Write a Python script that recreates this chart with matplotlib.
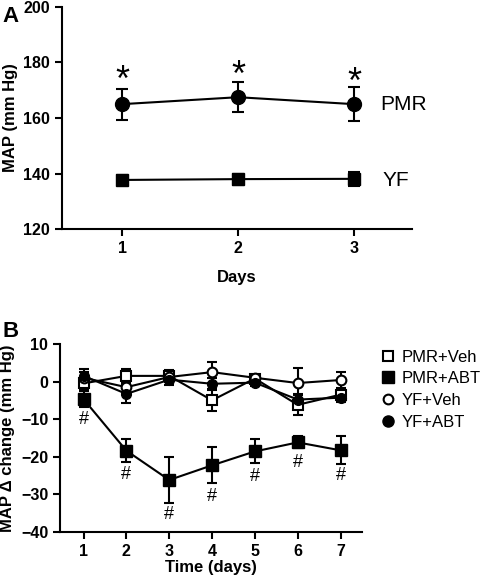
import matplotlib.pyplot as plt
import numpy as np
from matplotlib.lines import Line2D

# Panel A data
days_a = [1, 2, 3]
pmr_mean = [165.0, 167.5, 165.0]
pmr_err = [5.6, 5.3, 6.0]
yf_mean = [137.7, 138.0, 138.1]
yf_err = [1.8, 2.0, 2.6]
star_y = [173.0, 175.0, 172.5]

# Panel B data
days_b = [1, 2, 3, 4, 5, 6, 7]
pmr_veh = [-0.5, 1.5, 1.5, -5.0, 0.8, -6.2, -3.5]
pmr_veh_err = [1.5, 1.8, 1.5, 2.8, 1.0, 2.6, 1.5]
pmr_abt = [-4.7, -18.4, -26.2, -22.3, -18.6, -16.2, -18.3]
pmr_abt_err = [2.2, 3.0, 6.0, 4.8, 3.2, 1.6, 3.7]
yf_veh = [1.0, -1.5, 1.2, 2.5, 1.0, -0.4, 0.4]
yf_veh_err = [1.5, 1.5, 1.2, 2.8, 0.8, 4.0, 2.2]
yf_abt = [1.5, -3.3, 0.5, -0.6, -0.3, -4.8, -4.3]
yf_abt_err = [1.8, 2.5, 1.5, 1.5, 0.8, 1.5, 1.2]
hash_y = [-10.2, -24.8, -35.5, -30.6, -25.3, -21.5, -25.1]

plt.rcParams['font.family'] = ['Liberation Sans', 'DejaVu Sans']

fig = plt.figure(figsize=(4.8, 5.8), dpi=100)
ax1 = fig.add_axes([0.129, 0.605, 0.729, 0.383])
ax2 = fig.add_axes([0.125, 0.083, 0.629, 0.324])

def style(ax):
    ax.spines['top'].set_visible(False)
    ax.spines['right'].set_visible(False)
    ax.spines['left'].set_linewidth(1.5)
    ax.spines['bottom'].set_linewidth(1.5)
    ax.tick_params(direction='out', width=1.5, length=5, labelsize=11.5)
    for lab in ax.get_xticklabels() + ax.get_yticklabels():
        lab.set_fontweight('bold')

# Panel A
ebkw = dict(color='black', lw=1.5, capsize=4, capthick=1.5, elinewidth=1.5)
ax1.errorbar(days_a, pmr_mean, yerr=pmr_err, marker='o', ms=10, **ebkw)
ax1.errorbar(days_a, yf_mean, yerr=yf_err, marker='s', ms=8.5, **ebkw)
for x, y in zip(days_a, star_y):
    ax1.text(x, y, '*', ha='center', va='center', fontsize=26)
ax1.text(3.23, 165, 'PMR', ha='left', va='center', fontsize=15)
ax1.text(3.25, 137.5, 'YF', ha='left', va='center', fontsize=15)
ax1.set_xlim(0.48, 3.5)
ax1.set_ylim(120, 200)
ax1.set_xticks([1, 2, 3])
ax1.set_yticks(np.arange(120, 201, 20))
ax1.set_xlabel('Days', fontsize=12, fontweight='bold', labelpad=10)
ax1.set_ylabel('MAP (mm Hg)', fontsize=12, fontweight='bold')
style(ax1)
fig.text(0.005, 0.99, 'A', fontsize=16, fontweight='bold', va='top')

# Panel B
ebkw2 = dict(color='black', lw=1.5, capsize=3.5, capthick=1.5, elinewidth=1.5)
ax2.errorbar(days_b, pmr_veh, yerr=pmr_veh_err, marker='s', ms=7, mfc='white',
             mec='black', mew=1.5, **ebkw2)
ax2.errorbar(days_b, yf_veh, yerr=yf_veh_err, marker='o', ms=7, mfc='white',
             mec='black', mew=1.5, **ebkw2)
ax2.errorbar(days_b, yf_abt, yerr=yf_abt_err, marker='o', ms=7, **ebkw2)
ax2.errorbar(days_b, pmr_abt, yerr=pmr_abt_err, marker='s', ms=8, **ebkw2)
for x, y in zip(days_b, hash_y):
    ax2.text(x, y, '#', ha='center', va='center', fontsize=13)
ax2.set_xlim(0.45, 7.5)
ax2.set_ylim(-40, 10)
ax2.set_xticks(days_b)
ax2.set_yticks(np.arange(-40, 11, 10))
ax2.set_xlabel('Time (days)', fontsize=12, fontweight='bold', labelpad=1)
ax2.set_ylabel('MAP \u0394 change (mm Hg)', fontsize=12, fontweight='bold')
style(ax2)
fig.text(0.005, 0.447, 'B', fontsize=16, fontweight='bold', va='top')

leg_handles = [
    Line2D([], [], ls='none', marker='s', ms=7, mfc='white', mec='black', mew=1.5),
    Line2D([], [], ls='none', marker='s', ms=8, color='black'),
    Line2D([], [], ls='none', marker='o', ms=7, mfc='white', mec='black', mew=1.5),
    Line2D([], [], ls='none', marker='o', ms=8, color='black'),
]
ax2.legend(leg_handles, ['PMR+Veh', 'PMR+ABT', 'YF+Veh', 'YF+ABT'],
           loc='upper left', bbox_to_anchor=(1.02, 1.05), frameon=False,
           fontsize=12, handlelength=0.6, handletextpad=0.5, labelspacing=0.4)

fig.savefig('out.png', dpi=100)
